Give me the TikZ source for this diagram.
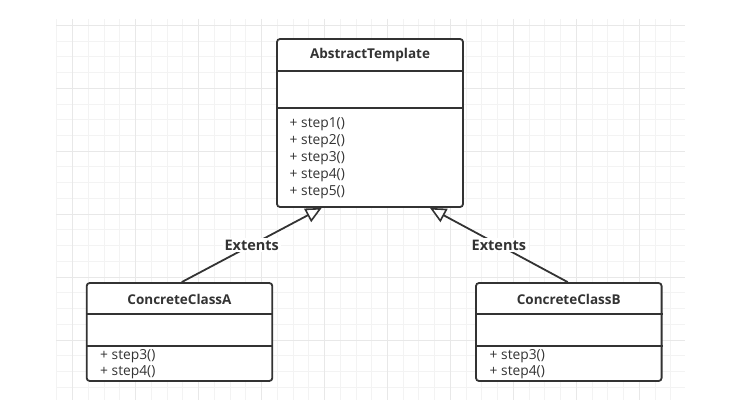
\documentclass[tikz,border=0pt]{standalone}
\usepackage{fontspec}
\setmainfont{Open Sans}
\usetikzlibrary{arrows.meta}

\definecolor{ink}{HTML}{333333}
\definecolor{gridminor}{HTML}{F3F3F3}
\definecolor{gridmajor}{HTML}{E8E8E8}

\tikzset{
    classbox/.style={draw=ink, line width=1.8pt, rounded corners=3pt, fill=white, inner sep=0pt},
    classtitle/.style={font=\bfseries\fontsize{13.5}{15}\selectfont, text=ink, inner sep=0pt},
    method/.style={font=\fontsize{13.8}{15}\selectfont, text=ink, anchor=west, inner sep=0pt},
    divider/.style={draw=ink, line width=1.8pt},
    extends/.style={draw=ink, line width=1.8pt, -{Triangle[length=16pt, width=15pt, fill=white, line width=1.6pt]}},
    edgelabel/.style={font=\bfseries\fontsize{14.5}{16}\selectfont, text=ink, fill=white, inner sep=2pt},
}

\begin{document}
\begin{tikzpicture}[x=1pt, y=-1pt]
    \useasboundingbox (0,0) rectangle (734,404);

    % background grid
    \begin{scope}
        \clip (56,19) rectangle (685,400);
        \foreach \i in {0,...,40}
            \draw[gridminor, line width=1pt] ({56.96+\i*15.74},19) -- ({56.96+\i*15.74},400);
        \foreach \i in {0,...,24}
            \draw[gridminor, line width=1pt] (56,{25.3+\i*15.74}) -- (685,{25.3+\i*15.74});
        \foreach \i in {0,...,10}
            \draw[gridmajor, line width=1pt] ({72.7+\i*62.96},19) -- ({72.7+\i*62.96},400);
        \foreach \i in {0,...,6}
            \draw[gridmajor, line width=1pt] (56,{25.3+\i*62.96}) -- (685,{25.3+\i*62.96});
    \end{scope}

    % AbstractTemplate
    \node[classbox, minimum width=186pt, minimum height=168pt] (abstract) at (370,123) {};
    \node[classtitle] (abstract-title) at (370,55) {AbstractTemplate};
    \draw[divider] (abstract.west |- 0,70.7) -- (abstract.east |- 0,70.7);
    \draw[divider] (abstract.west |- 0,107.7) -- (abstract.east |- 0,107.7);
    \foreach \n in {1,...,5}
        \node[method] (abstract-step\n) at (289.5,{124+17*(\n-1)}) {+ step\n()};

    % ConcreteClassA
    \node[classbox, minimum width=185.6pt, minimum height=98pt] (classA) at (179.5,332) {};
    \node[classtitle] (classA-title) at (179.5,299.3) {ConcreteClassA};
    \draw[divider] (classA.west |- 0,314.3) -- (classA.east |- 0,314.3);
    \draw[divider] (classA.west |- 0,346) -- (classA.east |- 0,346);
    \node[method] (classA-step3) at (100,355.7) {+ step3()};
    \node[method] (classA-step4) at (100,372.7) {+ step4()};

    % ConcreteClassB
    \node[classbox, minimum width=185.6pt, minimum height=98pt] (classB) at (568.8,332) {};
    \node[classtitle] (classB-title) at (568.8,299.3) {ConcreteClassB};
    \draw[divider] (classB.west |- 0,314.3) -- (classB.east |- 0,314.3);
    \draw[divider] (classB.west |- 0,346) -- (classB.east |- 0,346);
    \node[method] (classB-step3) at (489.5,355.7) {+ step3()};
    \node[method] (classB-step4) at (489.5,372.7) {+ step4()};

    % generalisation arrows
    \coordinate (tipA) at ([xshift=-48.3pt]abstract.south);
    \coordinate (tipB) at ([xshift=60pt]abstract.south);
    \draw[extends] ([xshift=2.2pt]classA.north) -- node[edgelabel] (labelA) {Extents} (tipA);
    \draw[extends] ([xshift=-1.1pt]classB.north) -- node[edgelabel] (labelB) {Extents} (tipB);

\end{tikzpicture}
\end{document}
